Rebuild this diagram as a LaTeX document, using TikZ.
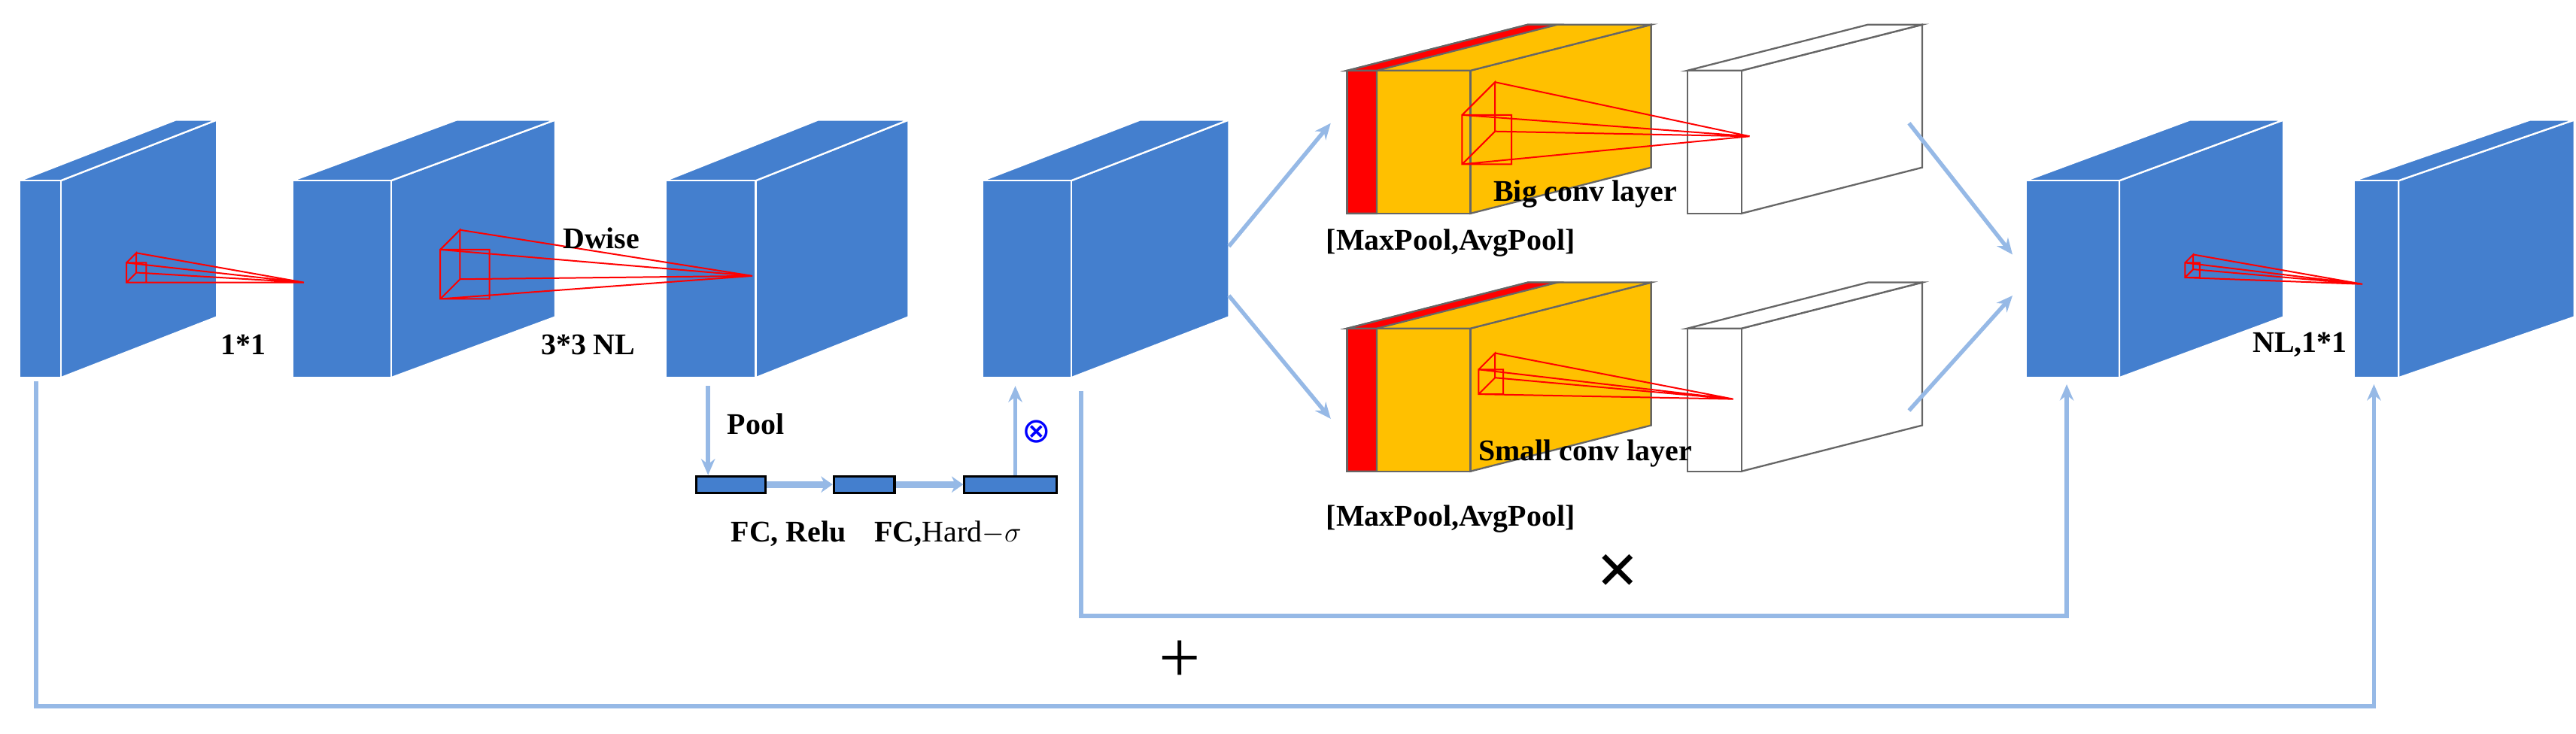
\documentclass[tikz,border=0pt]{standalone}
\usepackage{amsmath}
\usepackage{fontspec}
\setmainfont{Liberation Serif}
\newfontfamily\symfont{DejaVu Sans}
\usetikzlibrary{arrows.meta}
\definecolor{blk}{RGB}{68,127,206}
\definecolor{lnk}{RGB}{150,185,230}
\definecolor{gold}{RGB}{255,192,0}
% front corner, width, height, depth dx/dy, fill, edge
\newcommand\slab[8]{%
  \filldraw[fill=#7,draw=#8] (#1+#3,#2) -- ++(#5,#6) -- ++(0,#4) -- ++(-#5,-#6) -- cycle;
  \filldraw[fill=#7,draw=#8] (#1,#2) -- ++(#5,#6) -- ++(#3,0) -- ++(-#5,-#6) -- cycle;
  \filldraw[fill=#7,draw=#8] (#1,#2) rectangle ++(#3,#4);}
% kernel frustum: front corner, size, back offset, apex
\newcommand\kernel[5]{%
  \draw[red,line width=1.3pt] (#1,#2) rectangle ++(#3,#3) (#1,#2) -- ++(#4,-#4) -- ++(0,#3) -- ++(-#4,#4)
    (#1+#4,#2-#4) -- #5 (#1,#2) -- #5 (#1,#2+#3) -- #5 (#1+#4,#2-#4+#3) -- #5;}
\begin{document}
\begin{tikzpicture}[x=0.05cm,y=-0.05cm,>={Stealth[length=14pt,width=12pt]},
  lab/.style={font=\fontsize{26}{30}\selectfont\bfseries,inner sep=1pt},
  link/.style={lnk,line width=3.5pt,->},
  fc/.style={draw=black,fill=blk,line width=2pt,minimum width=#1,minimum height=0.5cm,inner sep=0pt}]
\useasboundingbox (0,0) rectangle (1568,446.5);
% main blocks
\begin{scope}[line width=1.5pt]
\slab{12}{110}{25}{120}{95}{-37}{blk}{white}
\slab{178}{110}{60}{120}{100}{-37}{blk}{white}
\slab{405}{110}{55}{120}{93}{-37}{blk}{white}
\slab{598}{110}{54}{120}{96}{-37}{blk}{white}
\slab{1233}{110}{57}{120}{100}{-37}{blk}{white}
\slab{1433}{110}{27}{120}{107}{-37}{blk}{white}
% attention branches
\foreach \y in {43,200}{
  \slab{820}{\y}{75}{87}{110}{-28}{gold}{black!60}
  \fill[red,draw=black!60] (820,\y) rectangle ++(18,87) (820,\y) -- ++(110,-28) -- ++(18,0) -- ++(-110,28) -- cycle;
  \slab{1027}{\y}{33}{87}{110}{-28}{white}{black!60}}
\end{scope}
\kernel{77}{160}{12}{6}{(185,172)}
\kernel{268}{152}{30}{12}{(458,168)}
\kernel{890}{70}{30}{20}{(1065,83)}
\kernel{900}{225}{15}{10}{(1055,243)}
\kernel{1330}{160}{9}{5}{(1438,173)}
% named anchors
\coordinate (b1) at (22,232); \coordinate (p3) at (431,235);
\coordinate (b4) at (658,238); \coordinate (s4) at (618,235);
\coordinate (o1) at (748,150); \coordinate (o2) at (748,180);
\coordinate (y1) at (810,75); \coordinate (y2) at (810,255);
\coordinate (w1) at (1162,75); \coordinate (w2) at (1162,250);
\coordinate (i1) at (1225,155); \coordinate (i2) at (1225,180);
\coordinate (m5) at (1258,234); \coordinate (m6) at (1445,234);
\node[fc=2.1cm] (f1) at (445,295) {};
\node[fc=1.85cm] (f2) at (526,295) {};
\node[fc=2.8cm] (f3) at (615,295) {};
\draw[link] (p3) -- (f1.north -| p3);
\draw[link,line width=6pt,>={Stealth[length=10pt,width=14pt]}] (f1) -- (f2);
\draw[link,line width=6pt,>={Stealth[length=10pt,width=14pt]}] (f2) -- (f3);
\draw[link] (f3.north -| s4) -- (s4);
\draw[link] (o1) -- (y1);
\draw[link] (o2) -- (y2);
\draw[link] (w1) -- (i1);
\draw[link] (w2) -- (i2);
\draw[link] (b4) |- (1258,375) -- (m5);
\draw[link] (b1) |- (1445,430) -- (m6);
% labels
\node[lab] (t1) at (148,210) {1*1};
\node[lab] (t2) at (366,145) {Dwise};
\node[lab] (t3) at (358,210) {3*3 NL};
\node[lab] (t4) at (460,258) {Pool};
\node[lab] (t5) at (480,325) {FC, Relu};
\node[lab] (t6) at (577,325) {FC,{\mdseries Hard$-\sigma$}};
\node[text=blue,font=\fontsize{30}{30}\selectfont\symfont] (t7) at (631,263) {⊗};
\node[lab] (t8) at (883,148) {[MaxPool,AvgPool]};
\node[lab] (t9) at (883,316) {[MaxPool,AvgPool]};
\node[lab] (t10) at (965,118) {Big conv layer};
\node[lab] (t11) at (965,276) {Small conv layer};
\node[lab] (t12) at (1400,210) {NL,1*1};
\node[font=\fontsize{64}{64}\selectfont\bfseries] (t13) at (985,350) {×};
\node[font=\fontsize{64}{64}\selectfont] (t14) at (718,403) {+};
\end{tikzpicture}
\end{document}
